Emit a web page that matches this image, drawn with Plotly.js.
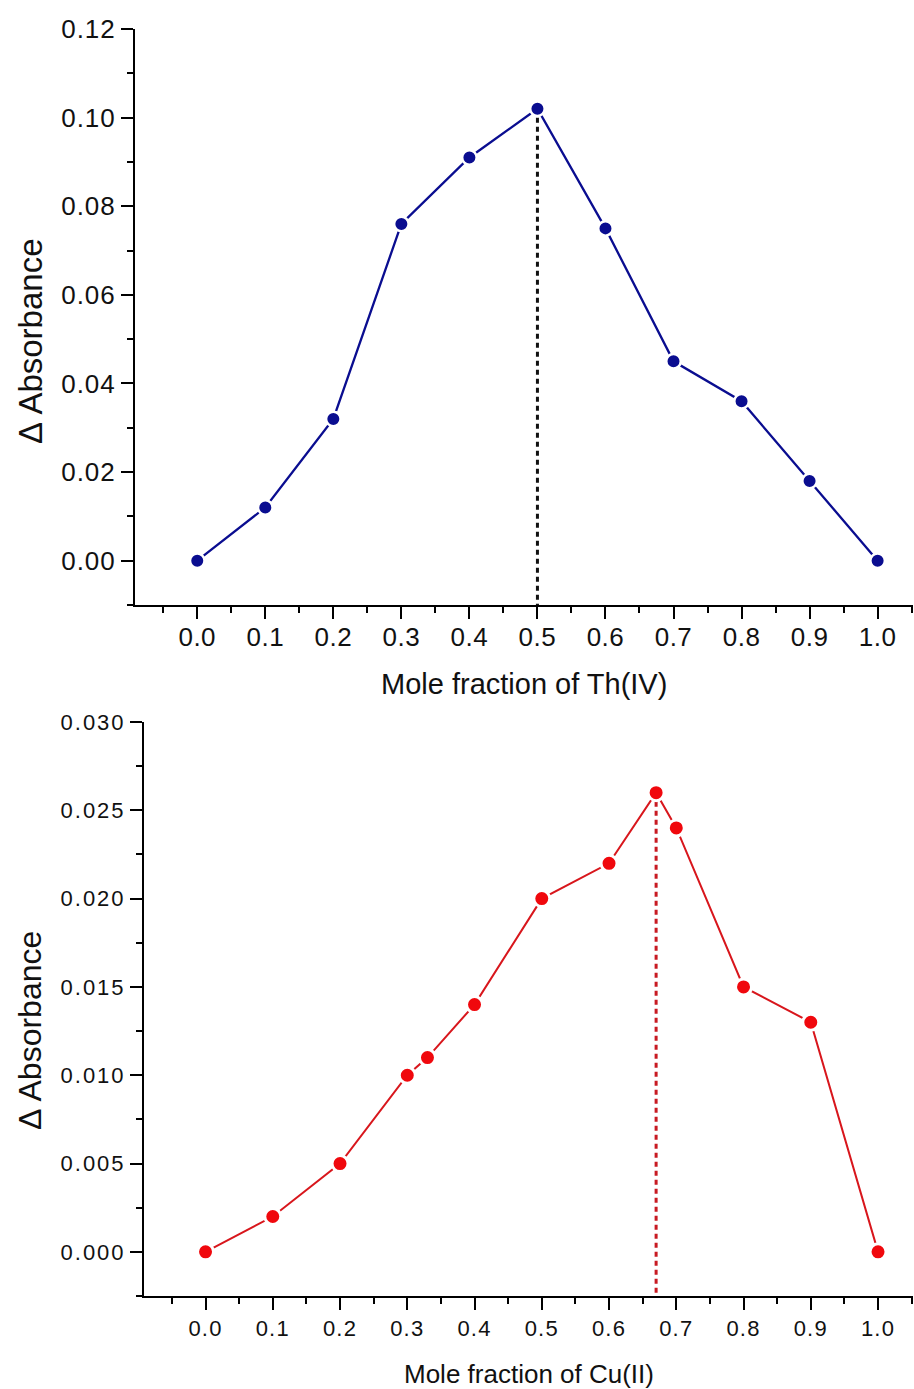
<!DOCTYPE html>
<html>
<head>
<meta charset="utf-8">
<script src="https://cdn.plot.ly/plotly-3.0.1.min.js"></script>
<style>
  html, body { margin: 0; padding: 0; background: #ffffff; }
  #chart { width: 914px; height: 1389px; }
  .xtick text { letter-spacing: 0.5px; }
  .ytick text { letter-spacing: 1px; }
  .x2tick text { letter-spacing: 1.2px; }
  .y2tick text { letter-spacing: 2px; }
</style>
</head>
<body>
<div id="chart"></div>
<script>
// ---- Data: Th(IV) job's plot ----
const thMoleFraction = [0.0, 0.1, 0.2, 0.3, 0.4, 0.5, 0.6, 0.7, 0.8, 0.9, 1.0];
const thAbsorbance   = [0.000, 0.012, 0.032, 0.076, 0.091, 0.102, 0.075, 0.045, 0.036, 0.018, 0.000];

// ---- Data: Cu(II) job's plot ----
const cuMoleFraction = [0.0, 0.1, 0.2, 0.3, 0.33, 0.4, 0.5, 0.6, 0.67, 0.7, 0.8, 0.9, 1.0];
const cuAbsorbance   = [0.000, 0.002, 0.005, 0.010, 0.011, 0.014, 0.020, 0.022, 0.026, 0.024, 0.015, 0.013, 0.000];

// ---- Text ----
const yTitle = "\u0394 Absorbance";
const thXTitle = "Mole fraction of Th(IV)";
const cuXTitle = "Mole fraction of Cu(II)";

// axis ranges
const xRange = [-0.0915, 1.052];
const thYRange = [-0.01, 0.12];
const cuYRange = [-0.0025, 0.030];

function peakOf(xs, ys) {
  let k = 0;
  ys.forEach((v, i) => { if (v > ys[k]) k = i; });
  return { x: xs[k], y: ys[k] };
}
const thPeak = peakOf(thMoleFraction, thAbsorbance);
const cuPeak = peakOf(cuMoleFraction, cuAbsorbance);

const navy = '#0a0d90';
const red = '#f0080d';
const redLine = '#d8161c';

const traces = [
  {
    x: [thPeak.x, thPeak.x], y: [thPeak.y, thYRange[0]],
    xaxis: 'x', yaxis: 'y', mode: 'lines',
    line: { color: '#111111', width: 3, dash: '5px,4px' },
    hoverinfo: 'skip', showlegend: false
  },
  {
    x: thMoleFraction, y: thAbsorbance,
    xaxis: 'x', yaxis: 'y', mode: 'lines+markers',
    line: { color: navy, width: 2.3 },
    marker: { color: navy, size: 14.5, line: { color: '#ffffff', width: 2.5 } },
    showlegend: false
  },
  {
    x: [cuPeak.x, cuPeak.x], y: [cuPeak.y, cuYRange[0]],
    xaxis: 'x2', yaxis: 'y2', mode: 'lines',
    line: { color: '#c81a22', width: 3, dash: '5px,4px' },
    hoverinfo: 'skip', showlegend: false
  },
  {
    x: cuMoleFraction, y: cuAbsorbance,
    xaxis: 'x2', yaxis: 'y2', mode: 'lines+markers',
    line: { color: redLine, width: 2 },
    marker: { color: red, size: 16, line: { color: '#ffffff', width: 3 } },
    showlegend: false
  }
];

const W = 914, H = 1389;
const font = 'Liberation Sans, Arial, sans-serif';

function xaxisDef(domainLeftPx, anchor, fontSize, standoff) {
  return {
    domain: [domainLeftPx / W, 913 / W],
    anchor: anchor,
    range: xRange,
    tick0: 0, dtick: 0.1, tickformat: '.1f',
    ticks: 'outside', ticklen: 12, tickwidth: 2, tickcolor: '#000',
    ticklabelstandoff: standoff,
    minor: { tick0: 0, dtick: 0.05, ticks: 'outside', ticklen: 6, tickwidth: 2, tickcolor: '#000' },
    showline: true, linewidth: 2, linecolor: '#000',
    showgrid: false, zeroline: false,
    tickfont: { family: font, size: fontSize, color: '#111' },
    fixedrange: true
  };
}
function yaxisDef(topPx, bottomPx, anchor, range, dtick, minorDtick, fmt, fontSize) {
  return {
    domain: [1 - bottomPx / H, 1 - topPx / H],
    anchor: anchor,
    range: range,
    tick0: 0, dtick: dtick, tickformat: fmt,
    ticks: 'outside', ticklen: 12, tickwidth: 2, tickcolor: '#000',
    minor: { tick0: 0, dtick: minorDtick, ticks: 'outside', ticklen: 6, tickwidth: 2, tickcolor: '#000' },
    showline: true, linewidth: 2, linecolor: '#000',
    showgrid: false, zeroline: false,
    tickfont: { family: font, size: fontSize, color: '#111' },
    fixedrange: true
  };
}

const layout = {
  width: W, height: H,
  margin: { l: 0, r: 0, t: 0, b: 0 },
  paper_bgcolor: '#ffffff',
  plot_bgcolor: 'rgba(0,0,0,0)',
  showlegend: false,
  xaxis: xaxisDef(135, 'y', 26, -4),
  yaxis: yaxisDef(29, 605, 'x', thYRange, 0.02, 0.01, '.2f', 26),
  xaxis2: xaxisDef(144, 'y2', 22, 0),
  yaxis2: yaxisDef(722, 1296, 'x2', cuYRange, 0.005, 0.0025, '.3f', 22),
  annotations: [
    { text: thXTitle, xref: 'paper', yref: 'paper', x: 524 / W, y: 1 - 684 / H,
      xanchor: 'center', yanchor: 'middle', showarrow: false,
      font: { family: font, size: 29, color: '#111' } },
    { text: yTitle, xref: 'paper', yref: 'paper', x: 30 / W, y: 1 - 341 / H,
      xanchor: 'center', yanchor: 'middle', showarrow: false, textangle: -90,
      font: { family: font, size: 33, color: '#111' } },
    { text: cuXTitle, xref: 'paper', yref: 'paper', x: 529 / W, y: 1 - 1374 / H,
      xanchor: 'center', yanchor: 'middle', showarrow: false,
      font: { family: font, size: 26, color: '#111' } },
    { text: yTitle, xref: 'paper', yref: 'paper', x: 30 / W, y: 1 - 1031 / H,
      xanchor: 'center', yanchor: 'middle', showarrow: false, textangle: -90,
      font: { family: font, size: 32, color: '#111' } }
  ]
};

Plotly.newPlot('chart', traces, layout, { displayModeBar: false, staticPlot: true });
</script>
</body>
</html>
